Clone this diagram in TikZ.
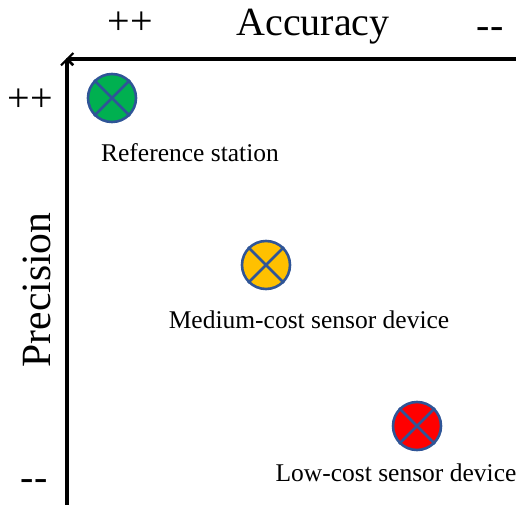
\documentclass[tikz,border=0pt]{standalone}
\usepackage{fontspec}
\setmainfont{Liberation Serif}
\usetikzlibrary{arrows.meta}
\definecolor{mkgreen}{HTML}{00B050}
\definecolor{mkyellow}{HTML}{FFC000}
\definecolor{mkred}{HTML}{FF0000}
\definecolor{mkborder}{HTML}{2F5597}
\tikzset{
  axisline/.style={line width=3.2pt, -{Straight Barb[length=6pt,width=12pt,line width=2pt]}},
  marker/.style={circle, draw=mkborder, line width=2.6pt, minimum size=48pt, inner sep=0pt},
  crossline/.style={draw=mkborder, line width=2.8pt},
  lbl/.style={inner sep=0pt, anchor=base, font=\fontsize{25.5}{30}\selectfont},
  biglbl/.style={inner sep=0pt, font=\fontsize{40}{46}\selectfont},
}
\newcommand{\mkcross}[1]{\draw[crossline] (#1.north west) -- (#1.south east) (#1.north east) -- (#1.south west);}
\begin{document}
\begin{tikzpicture}[x=1pt,y=-1pt]
\useasboundingbox (0,0) rectangle (516,505);
% axes
\coordinate (hstart) at (517,59);
\coordinate (hend) at (66,59);
\coordinate (vstart) at (67,506);
\coordinate (vend) at (67,58);
\draw[axisline] (hstart) -- (hend);
\draw[axisline] (vstart) -- (vend);
% axis labels
\node[biglbl, anchor=base] (acc) at (313,36) {Accuracy};
\node[biglbl] (accpp) at (130,23) {++};
\node[biglbl] (accmm) at (490,33) {-{}-};
\node[biglbl] (prepp) at (30,100) {++};
\node[biglbl] (premm) at (34,485) {-{}-};
\node[inner sep=0pt, anchor=base, rotate=90, font=\fontsize{41.6}{48}\selectfont] (prec) at (50,290) {Precision};
% markers
\node[marker, fill=mkgreen] (ref) at (112,98) {};
\mkcross{ref}
\node[marker, fill=mkyellow] (med) at (266,265) {};
\mkcross{med}
\node[marker, fill=mkred] (low) at (417,426) {};
\mkcross{low}
% labels
\node[lbl] (reflbl) at (190,161) {Reference station};
\node[lbl] (medlbl) at (309,328) {Medium-cost sensor device};
\node[lbl] (lowlbl) at (396,481) {Low-cost sensor device};
\end{tikzpicture}
\end{document}
